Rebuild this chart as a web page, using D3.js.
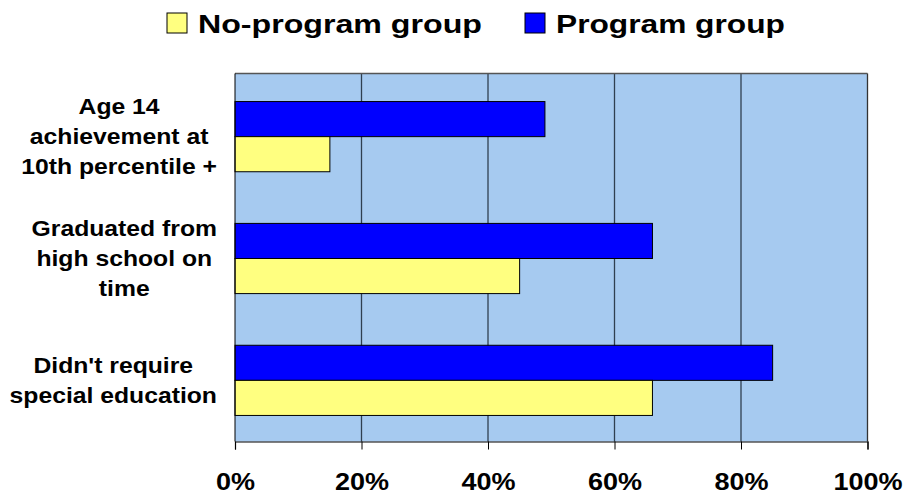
<!DOCTYPE html>
<html>
<head>
<meta charset="utf-8">
<script src="https://cdn.jsdelivr.net/npm/d3@7"></script>
<style>
  html, body { margin: 0; padding: 0; background: #fff; }
  svg { display: block; }
  text { font-family: "Liberation Sans", Arial, sans-serif; font-weight: bold; fill: #000; }
</style>
</head>
<body>
<svg id="chart" width="910" height="498"></svg>
<script>
const categories = [
  ["Age 14", "achievement at", "10th percentile +"],
  ["Graduated from", "high school on", "time"],
  ["Didn't require", "special education"]
];
const seriesNames = ["No-program group", "Program group"];
const noProgram = [15, 45, 66];
const program = [49, 66, 85];
const xTicks = [0, 20, 40, 60, 80, 100];
const tickLabels = ["0%", "20%", "40%", "60%", "80%", "100%"];
const colors = { "No-program group": "#FFFF80", "Program group": "#0000FF" };

const svg = d3.select("#chart");
const plot = { left: 235, right: 867.5, top: 73.5, bottom: 441.5 };

const x = d3.scaleLinear().domain([0, 100]).range([plot.left, plot.right]);
const y = d3.scaleBand().domain(d3.range(categories.length))
  .range([plot.top, plot.bottom]).paddingInner(0.424).paddingOuter(0.222);
const sub = d3.scaleBand().domain(["Program group", "No-program group"])
  .range([0, y.bandwidth()]);

// background
svg.append("rect").attr("x", plot.left).attr("y", plot.top)
  .attr("width", plot.right - plot.left).attr("height", plot.bottom - plot.top)
  .attr("fill", "#A6CAF0");

// gridlines
svg.append("g").selectAll("line").data(xTicks.slice(1)).join("line")
  .attr("x1", d => x(d)).attr("x2", d => x(d))
  .attr("y1", plot.top).attr("y2", plot.bottom)
  .attr("stroke", d => d === 100 ? "#333" : "#2f3f50").attr("stroke-width", 1.3);
// top border
svg.append("line").attr("x1", plot.left).attr("x2", plot.right)
  .attr("y1", plot.top).attr("y2", plot.top).attr("stroke", "#555").attr("stroke-width", 1.5);

// bars
const rows = categories.map((c, i) => ({ i, vals: [
  { s: "Program group", v: program[i] },
  { s: "No-program group", v: noProgram[i] }
]}));
const g = svg.append("g").selectAll("g").data(rows).join("g")
  .attr("transform", d => `translate(0,${y(d.i) + 1})`);
g.selectAll("rect").data(d => d.vals).join("rect")
  .attr("x", x(0)).attr("y", d => sub(d.s))
  .attr("width", d => x(d.v) - x(0)).attr("height", sub.bandwidth())
  .attr("fill", d => colors[d.s]).attr("stroke", "#000").attr("stroke-width", 1);

// left axis line
svg.append("line").attr("x1", plot.left).attr("x2", plot.left)
  .attr("y1", plot.top).attr("y2", plot.bottom).attr("stroke", "#000").attr("stroke-width", 1);

// bottom axis
const xAxis = d3.axisBottom(x).tickValues(xTicks).tickSize(8)
  .tickFormat((d, i) => tickLabels[i]);
const ax = svg.append("g").attr("transform", `translate(0,${plot.bottom})`).call(xAxis);
ax.select(".domain").attr("stroke", "#000").attr("stroke-width", 1.2);
ax.selectAll(".tick line").attr("stroke", "#000");
ax.selectAll(".tick text").attr("y", 0).attr("dy", 0)
  .style("font-size", "23.5px").style("font-family", "Liberation Sans, Arial, sans-serif")
  .style("font-weight", "bold").attr("fill", "#000")
  .attr("transform", "translate(0,48) scale(1.15,1)");

// category labels
const labelRight = 217;
const lineH = 30;
const fsCat = 21.5, sxCat = 1.15;
categories.forEach((lines, i) => {
  const cy = y(i) + y.bandwidth() / 2 + 1;
  const grp = svg.append("g");
  const texts = grp.selectAll("text").data(lines).join("text")
    .style("font-size", fsCat + "px").attr("text-anchor", "middle").text(d => d);
  const maxW = d3.max(texts.nodes(), n => n.getComputedTextLength()) * sxCat;
  const cx = labelRight - maxW / 2;
  const n = lines.length;
  texts.attr("transform", (d, k) => {
    const base = cy + (k - (n - 1) / 2) * lineH + fsCat * 0.36;
    return `translate(${cx},${base}) scale(${sxCat},1)`;
  });
});

// legend
const legend = [
  { name: seriesNames[0], sx: 167, tx: 198, w: 284 },
  { name: seriesNames[1], sx: 525, tx: 556, w: 229 }
];
legend.forEach(l => {
  svg.append("rect").attr("x", l.sx).attr("y", 13).attr("width", 20).attr("height", 20)
    .attr("fill", colors[l.name]).attr("stroke", "#000").attr("stroke-width", 1);
  const t = svg.append("text").style("font-size", "26.5px").text(l.name);
  const w = t.node().getComputedTextLength();
  t.attr("transform", `translate(${l.tx},33) scale(${l.w / w},1)`);
});
</script>
</body>
</html>
